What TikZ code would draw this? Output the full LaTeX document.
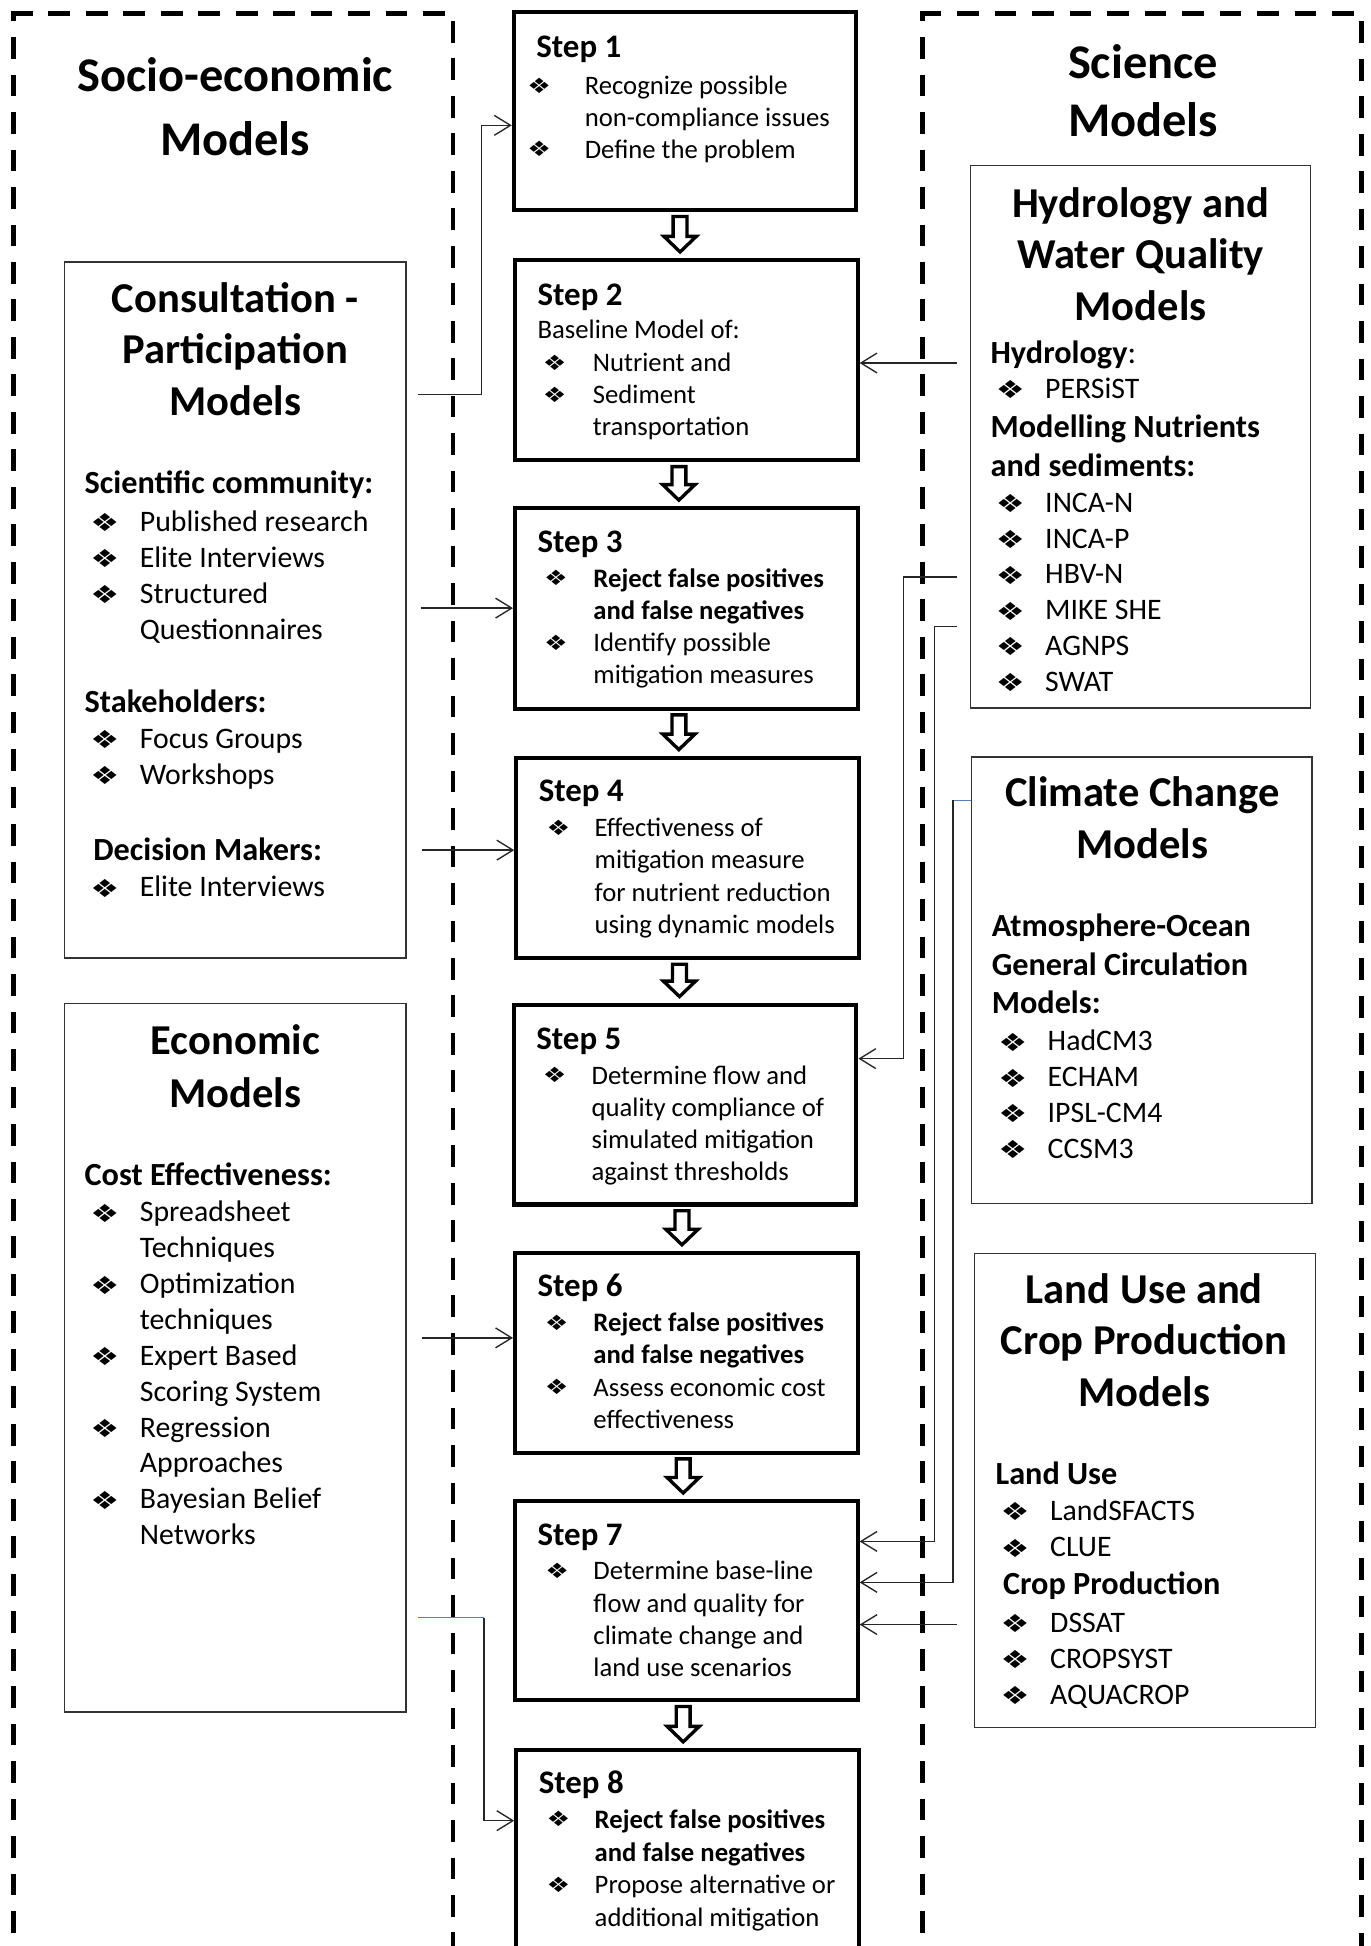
\documentclass[tikz,border=0pt]{standalone}
\usepackage{fontspec}
\setmainfont{Carlito}
\newfontfamily\dejavu{DejaVu Sans}
\usepackage{graphicx}
\usetikzlibrary{arrows.meta}
\definecolor{linkblue}{RGB}{79,129,189}

\newcommand\mybulS{\scalebox{1.25}[1]{\dejavu\fontsize{17}{17}\selectfont ❖}}
\newcommand\mybulL{\scalebox{1.3}[1]{\dejavu\fontsize{20}{20}\selectfont ❖}}

\tikzset{
  stepbox/.style={draw=black, line width=3.3pt, inner sep=0pt},
  sidebox/.style={draw=black!80, line width=1.1pt, inner sep=0pt},
  panel/.style={draw=black, line width=3.9pt, dash pattern=on 17.5pt off 12.7pt},
  conn/.style={draw=black!85, line width=1.1pt},
  arr/.style={conn, -{Straight Barb[length=13pt,width=16pt]}},
  bluelink/.style={draw=linkblue, line width=1.1pt},
  blockarrow/.style={draw=black, line width=2.7pt, line join=miter},
  maintitle/.style={font=\fontsize{39}{46}\selectfont\bfseries, inner sep=0pt, anchor=base},
  boxtitle/.style={font=\fontsize{34.3}{41}\selectfont\bfseries, inner sep=0pt, anchor=base},
  steptitle/.style={font=\fontsize{26.5}{30}\selectfont\bfseries, inner sep=0pt, anchor=base west},
  steptext/.style={font=\fontsize{21.5}{26}\selectfont, inner sep=0pt, anchor=base west},
  sidehead/.style={font=\fontsize{26}{30}\selectfont\bfseries, inner sep=0pt, anchor=base west},
  sidetext/.style={font=\fontsize{24}{29}\selectfont, inner sep=0pt, anchor=base west},
  stepbullet/.style={inner sep=0pt, anchor=center, yshift=7.3pt, node contents={\mybulS}},
  sidebullet/.style={inner sep=0pt, anchor=center, yshift=6.8pt, node contents={\mybulL}},
}

% name, bullet x, text x, first baseline, line step, text style, bullet style, list
\newcommand\mylist[8]{%
  \foreach \lkind/\ltxt [count=\li] in {#8}{%
    \node[#6] (#1-\li) at (#3,{#4+(\li-1)*(#5)}) {\ltxt};
    \if b\lkind \node (#1-b\li) at (#2,{#4+(\li-1)*(#5)}) [#7];\fi
  }}
% style, name, left, right, top, bottom
\newcommand\edgebox[6]{\node[#1, minimum width={(#4-#3)*1pt}, minimum height={(#6-#5)*1pt}] (#2) at ({(#3+#4)/2},{(#5+#6)/2}) {};}
% x, top, tip
\newcommand\downblock[3]{\draw[blockarrow] ({#1-5.6},#2) -- ({#1+5.6},#2) -- ({#1+5.6},{#3-12.5}) -- ({#1+13},{#3-12.5}) -- (#1,#3) -- ({#1-13},{#3-12.5}) -- ({#1-5.6},{#3-12.5}) -- cycle;}

\begin{document}
\begin{tikzpicture}[x=1pt,y=-1pt]
\useasboundingbox (0,0) rectangle (1104,1568);
\clip (0,0) rectangle (1104,1568);

% dashed panels
\draw[panel] (8.8,10.7) -- (365,10.7) -- (365,1600);
\draw[panel, dash phase=11] (10.7,10.7) -- (10.7,1600);
\draw[panel] (741.1,10.7) -- (1097,10.7) -- (1097,1600);
\draw[panel, dash phase=11] (743,10.7) -- (743,1600);

% side boxes
\edgebox{sidebox}{cons}{52}{327}{211}{772}
\edgebox{sidebox}{econ}{52}{327}{808.5}{1379.5}
\edgebox{sidebox}{hyd}{782}{1056}{133.5}{570.5}
\edgebox{sidebox}{clim}{783}{1057}{610}{969.5}
\edgebox{sidebox}{land}{785}{1060}{1010}{1392}

% step boxes
\edgebox{stepbox}{s1}{414}{690}{9.4}{169.5}
\edgebox{stepbox}{s2}{415}{691}{209.5}{371}
\edgebox{stepbox}{s3}{415}{691}{409.5}{571}
\edgebox{stepbox}{s4}{416}{692}{610.5}{772}
\edgebox{stepbox}{s5}{414}{690}{809.5}{970.5}
\edgebox{stepbox}{s6}{415}{691}{1009.5}{1170.5}
\edgebox{stepbox}{s7}{415}{691}{1209.5}{1370}
\edgebox{stepbox}{s8}{416}{692}{1410}{1620}

% block arrows
\downblock{548}{174.5}{203}
\downblock{547}{376}{403}
\downblock{547}{576}{604}
\downblock{547.5}{777}{803}
\downblock{549.5}{975.5}{1003}
\downblock{550.5}{1175.5}{1203}
\downblock{550.5}{1375}{1403.5}

% connectors, left
\coordinate (cL1) at (337,318);
\coordinate (kL1) at (388,101);
\draw[arr] (cL1) -| (kL1) -- (s1.west |- kL1);
\coordinate (cL2) at (339,490);
\draw[arr] (cL2) -- (s3.west |- cL2);
\coordinate (cL3) at (340,685);
\draw[arr] (cL3) -- (s4.west |- cL3);
\coordinate (cL4) at (340,1078);
\draw[arr] (cL4) -- (s6.west |- cL4);
\coordinate (cL5) at (337,1303.5);
\coordinate (kL5) at (390,1303.5);
\coordinate (kL5b) at (390,1467);
\draw[bluelink] (cL5) -- (kL5);
\draw[arr] (kL5) -- (kL5b) -- (s8.west |- kL5b);

% connectors, right
\coordinate (cR1) at (771,292.5);
\draw[arr] (cR1) -- (s2.east |- cR1);
\coordinate (cR2) at (771,465);
\coordinate (kR2) at (728,853);
\draw[arr] (cR2) -| (kR2) -- (s5.east |- kR2);
\coordinate (cR3) at (771,505);
\coordinate (kR3) at (753,1242);
\draw[arr] (cR3) -| (kR3) -- (s7.east |- kR3);
\coordinate (kR4) at (768,645);
\coordinate (kR4b) at (768,1275);
\draw[bluelink] (clim.west |- kR4) -- (kR4);
\draw[arr] (kR4) -- (kR4b) -- (s7.east |- kR4b);
\coordinate (cR5) at (771,1309);
\draw[arr] (cR5) -- (s7.east |- cR5);

% panel titles
\node[maintitle] (tse1) at (189.5,74) {Socio-economic};
\node[maintitle] (tse2) at (189.5,125) {Models};
\node[maintitle] (tsc1) at (921,63) {Science};
\node[maintitle] (tsc2) at (921,110) {Models};

% consultation
\node[boxtitle] (cons-t1) at (189.5,252) {Consultation -};
\node[boxtitle] (cons-t2) at (189.5,293) {Participation};
\node[boxtitle] (cons-t3) at (189.5,334.5) {Models};
\node[sidehead] (cons-h1) at (68,398) {Scientific community:};
\mylist{cons-a}{84.5}{112.5}{428}{29}{sidetext}{sidebullet}{b/Published research, b/Elite Interviews, b/Structured, c/Questionnaires}
\node[sidehead] (cons-h2) at (68,574) {Stakeholders:};
\mylist{cons-b}{84.5}{112.5}{603}{29}{sidetext}{sidebullet}{b/Focus Groups, b/Workshops}
\node[sidehead] (cons-h3) at (75,693) {Decision Makers:};
\mylist{cons-c}{84.5}{112.5}{722.5}{29}{sidetext}{sidebullet}{b/Elite Interviews}

% economic
\node[boxtitle] (econ-t1) at (189.5,850) {Economic};
\node[boxtitle] (econ-t2) at (189.5,892) {Models};
\node[sidehead] (econ-h1) at (68,955) {Cost Effectiveness:};
\mylist{econ-a}{84.5}{112.5}{984.5}{28.9}{sidetext}{sidebullet}{b/Spreadsheet, c/Techniques, b/Optimization, c/techniques, b/Expert Based, c/Scoring System, b/Regression, c/Approaches, b/Bayesian Belief, c/Networks}

% hydrology
\node[boxtitle] (hyd-t1) at (919,175) {Hydrology and};
\node[boxtitle] (hyd-t2) at (919,216.5) {Water Quality};
\node[boxtitle] (hyd-t3) at (919,258) {Models};
\node[sidehead] (hyd-h1) at (798,292.5) {Hydrology\mdseries:};
\mylist{hyd-a}{814}{842}{321}{29}{sidetext}{sidebullet}{b/PERSiST}
\node[sidehead] (hyd-h2) at (798,352.5) {Modelling Nutrients};
\node[sidehead] (hyd-h3) at (798,384) {and sediments:};
\mylist{hyd-b}{814}{842}{412.8}{28.8}{sidetext}{sidebullet}{b/INCA-N, b/INCA-P, b/HBV-N, b/MIKE SHE, b/AGNPS, b/SWAT}

% climate
\node[boxtitle] (clim-t1) at (920.5,650) {Climate Change};
\node[boxtitle] (clim-t2) at (920.5,691.5) {Models};
\node[sidehead] (clim-h1) at (799,754.5) {Atmosphere-Ocean};
\node[sidehead] (clim-h2) at (799,786) {General Circulation};
\node[sidehead] (clim-h3) at (799,817) {Models:};
\mylist{clim-a}{816}{844}{846.5}{28.9}{sidetext}{sidebullet}{b/HadCM3, b/ECHAM, b/IPSL-CM4, b/CCSM3}

% land use
\node[boxtitle] (land-t1) at (922,1050) {Land Use and};
\node[boxtitle] (land-t2) at (922,1091.5) {Crop Production};
\node[boxtitle] (land-t3) at (922,1133) {Models};
\node[sidehead] (land-h1) at (802,1196) {Land Use};
\mylist{land-a}{818}{846}{1225}{29.5}{sidetext}{sidebullet}{b/LandSFACTS, b/CLUE}
\node[sidehead] (land-h2) at (808,1285) {Crop Production};
\mylist{land-b}{818}{846}{1315}{29}{sidetext}{sidebullet}{b/DSSAT, b/CROPSYST, b/AQUACROP}

% steps
\node[steptitle] (s1-t) at (432,46) {Step 1};
\mylist{s1-l}{434.5}{471}{76.5}{25.5}{steptext}{stepbullet}{b/Recognize possible, c/non-compliance issues, b/Define the problem}

\node[steptitle] (s2-t) at (433,246) {Step 2};
\node[steptext] (s2-x) at (433,273) {Baseline Model of:};
\mylist{s2-l}{447}{477.5}{299.5}{25.6}{steptext}{stepbullet}{b/Nutrient and, b/Sediment, c/transportation}

\node[steptitle] (s3-t) at (433,445.5) {Step 3};
\mylist{s3-l}{448}{478}{473}{26}{steptext}{stepbullet}{b/\textbf{Reject false positives}, c/\textbf{and false negatives}, b/Identify possible, c/mitigation measures}

\node[steptitle] (s4-t) at (434,646) {Step 4};
\mylist{s4-l}{450}{479}{674}{26}{steptext}{stepbullet}{b/Effectiveness of, c/mitigation measure, c/for nutrient reduction, c/using dynamic models}

\node[steptitle] (s5-t) at (432,846) {Step 5};
\mylist{s5-l}{447}{476.5}{873.5}{26}{steptext}{stepbullet}{b/Determine flow and, c/quality compliance of, c/simulated mitigation, c/against thresholds}

\node[steptitle] (s6-t) at (433,1045) {Step 6};
\mylist{s6-l}{448.5}{478}{1073}{26}{steptext}{stepbullet}{b/\textbf{Reject false positives}, c/\textbf{and false negatives}, b/Assess economic cost, c/effectiveness}

\node[steptitle] (s7-t) at (433,1245) {Step 7};
\mylist{s7-l}{449}{478}{1273}{26}{steptext}{stepbullet}{b/Determine base-line, c/flow and quality for, c/climate change and, c/land use scenarios}

\node[steptitle] (s8-t) at (434,1445) {Step 8};
\mylist{s8-l}{450}{479}{1473}{26.5}{steptext}{stepbullet}{b/\textbf{Reject false positives}, c/\textbf{and false negatives}, b/Propose alternative or, c/additional mitigation}

\end{tikzpicture}
\end{document}
